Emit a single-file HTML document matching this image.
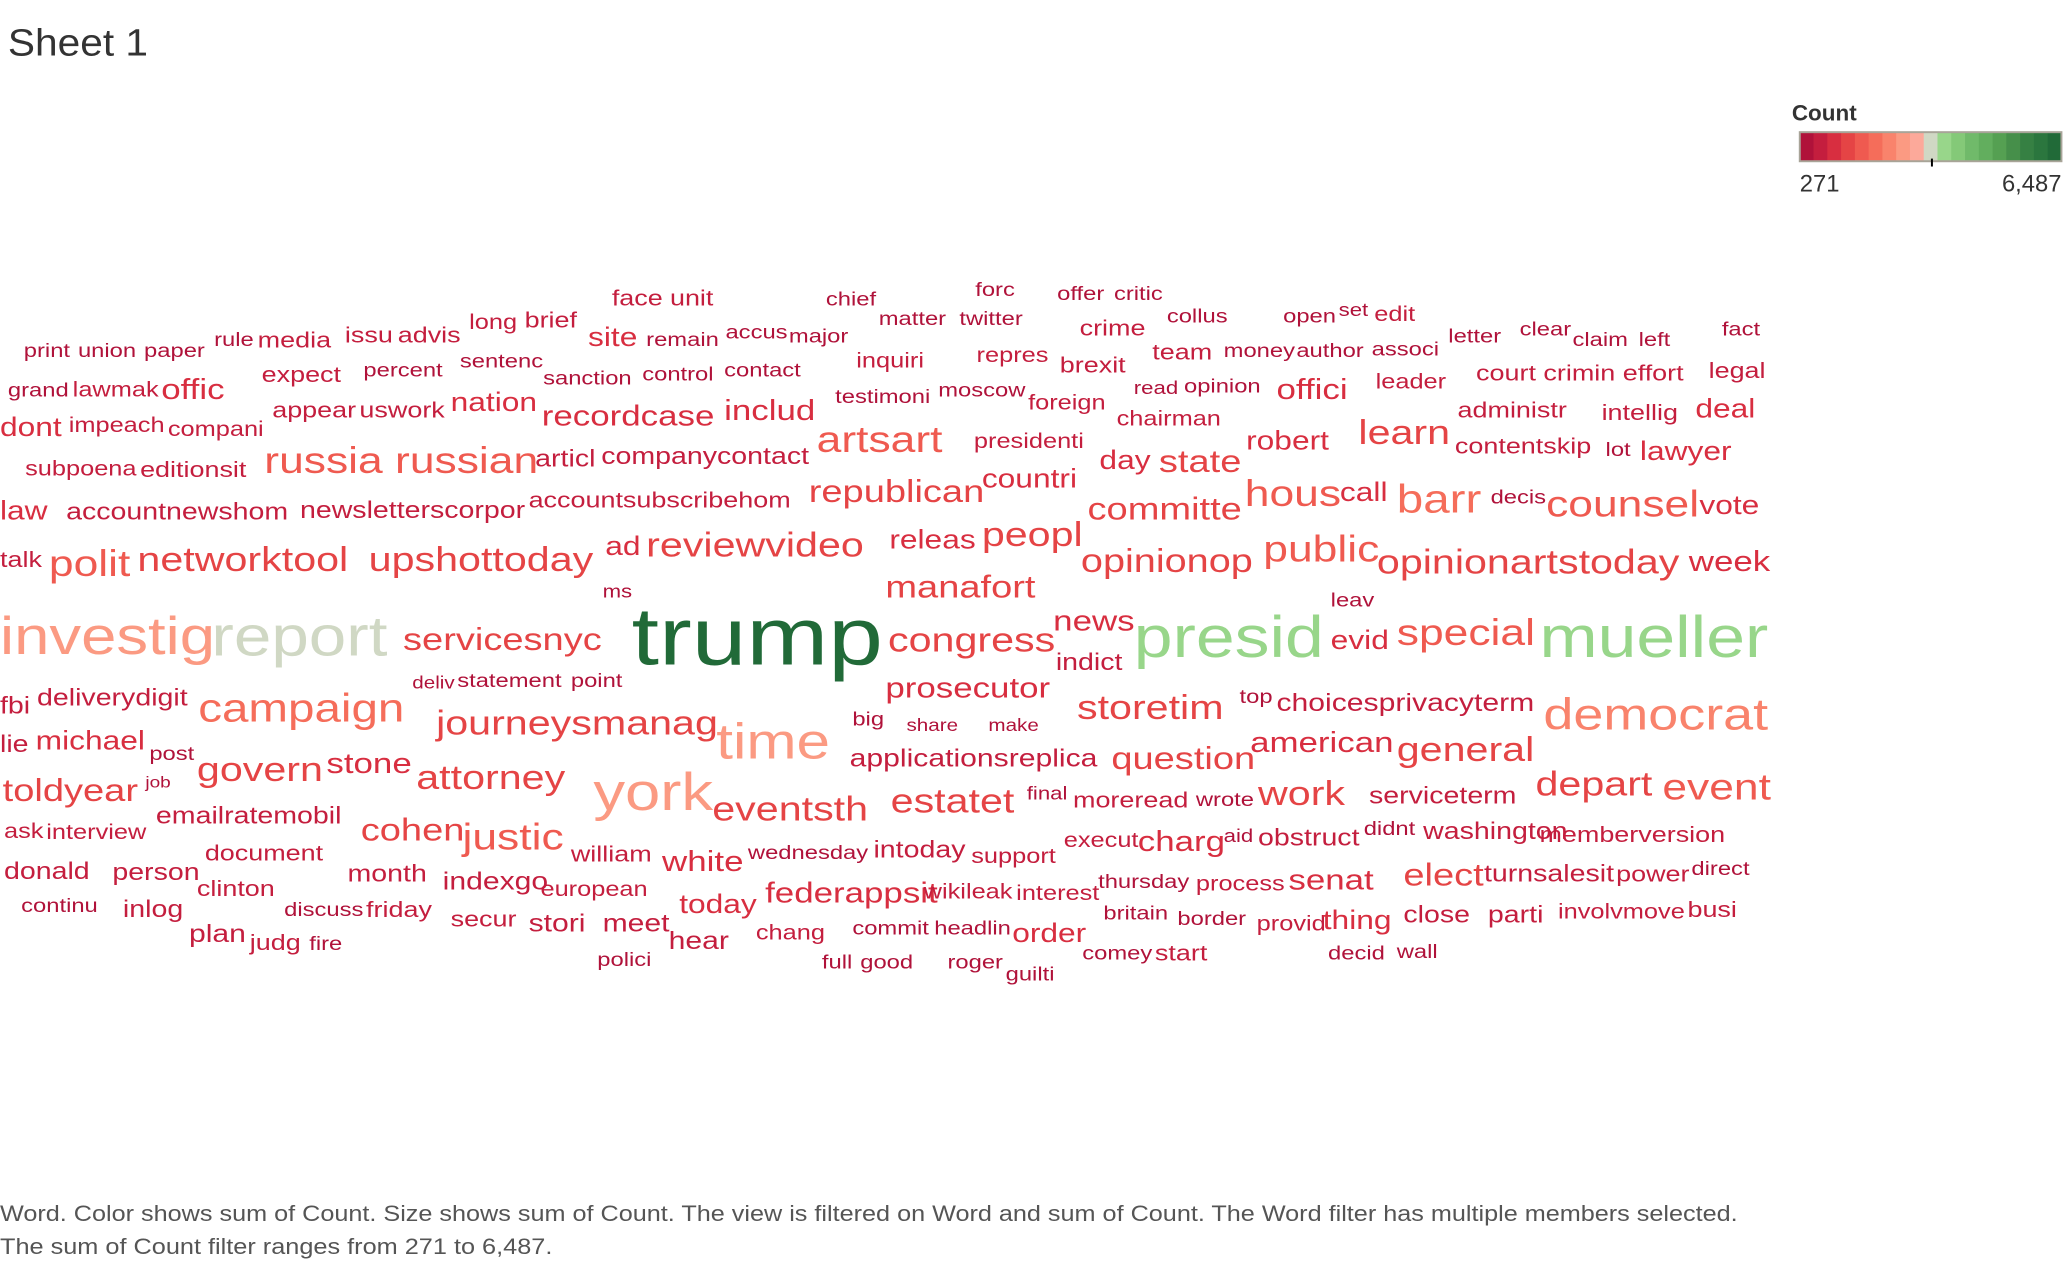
<!DOCTYPE html>
<html><head><meta charset="utf-8"><style>
html,body{margin:0;padding:0;background:#fff;}
svg{display:block;}
text{font-family:"Liberation Sans",sans-serif;}
</style></head><body>
<svg id="chart" width="2072" height="1264" viewBox="0 0 1568 956.5" xmlns="http://www.w3.org/2000/svg">
<text x="6" y="42" font-size="29" fill="#333" textLength="106" lengthAdjust="spacingAndGlyphs">Sheet 1</text>
<g>
<text x="1356" y="91" font-size="17" font-weight="bold" fill="#333">Count</text>
<g id="legendbar"></g>
<text x="1362" y="145" font-size="18" fill="#333">271</text>
<text x="1560" y="145" font-size="18" fill="#333" text-anchor="end">6,487</text>
</g>
<g id="words"></g>
<text x="0" y="924" font-size="17" fill="#555" textLength="1315" lengthAdjust="spacingAndGlyphs">Word.  Color shows sum of Count.  Size shows sum of Count. The view is filtered on Word and sum of Count. The Word filter has multiple members selected.</text>
<text x="0" y="949" font-size="17" fill="#555" textLength="418" lengthAdjust="spacingAndGlyphs">The sum of Count filter ranges from 271 to 6,487.</text>
</svg>
<script>
const palette = ["#b0123a","#c41e3e","#d82e40","#e54445","#ef5a50","#f56d5a","#f9836c","#fb9a82","#fca99a","#d0d8c4","#98d68a","#84c978","#70ba6a","#62ae5e","#55a052","#468f4a","#368043","#2b763e","#216a38"];
const minCount = 271, maxCount = 6487;
const words = ["face","unit","chief","forc","offer","critic","matter","twitter","open","set","edit","collus","long","brief","crime","letter","clear","fact","accus","major","issu","advis","site","remain","claim","left","rule","media","print","union","paper","team","money","author","associ","repres","inquiri","sentenc","brexit","contact","control","percent","court","crimin","effort","legal","expect","sanction","leader","read","opinion","grand","lawmak","offic","offici","moscow","testimoni","foreign","nation","appear","uswork","includ","administr","intellig","deal","recordcase","chairman","dont","impeach","compani","learn","artsart","presidenti","robert","contentskip","lot","lawyer","articl","companycontact","day","state","russia russian","subpoena","editionsit","countri","republican","call","decis","hous","barr","counsel","vote","accountsubscribehom","committe","law","accountnewshom","newsletterscorpor","peopl","releas","reviewvideo","ad","public","talk","polit","networktool","upshottoday","opinionop","opinionartstoday","week","manafort","ms","leav","news","presid","evid","special","mueller","investig","report","servicesnyc","trump","congress","indict","deliv","statement","point","prosecutor","deliverydigit","top","choicesprivacyterm","fbi","campaign","storetim","democrat","big","share","make","journeysmanag","time","michael","american","lie","general","post","applicationsreplica","question","stone","govern","attorney","job","final","depart","event","toldyear","york","work","moreread","wrote","estatet","serviceterm","eventsth","emailratemobil","didnt","ask","interview","cohen","washington","memberversion","justic","aid","obstruct","execut","charg","intoday","document","wednesday","support","william","white","direct","donald","person","month","power","elect","turnsalesit","senat","indexgo","thursday","process","clinton","european","federappsit","wikileak","interest","continu","today","discuss","friday","inlog","britain","border","close","parti","involvmove","busi","secur","stori","meet","provid","thing","commit","headlin","order","chang","plan","hear","judg","fire","wall","decid","comey","start","full","good","polici","roger","guilti"];
const counts = [893,893,644,644,644,644,644,644,644,520,768,644,768,893,893,644,644,644,644,644,893,893,1266,644,644,644,644,893,644,644,644,893,644,644,644,768,768,644,893,644,644,644,893,893,893,893,893,644,768,520,644,644,768,1514,1514,644,644,768,1266,893,893,1514,893,893,1266,1514,768,1266,768,768,2012,2260,768,1266,893,644,1266,1017,1017,1266,1763,2260,768,893,1266,1763,1266,644,2260,2509,2260,1266,893,1763,1266,1017,1017,2012,1266,2012,1266,2260,893,2260,2012,2012,1887,2012,1514,1763,520,644,1514,4249,1266,2260,4249,3752,4060,1763,6487,2012,1017,395,644,644,1514,1017,644,1141,1017,2509,2012,3006,644,395,395,2012,3503,1266,1514,1017,2012,644,1141,1763,1514,2012,2012,271,520,2012,2260,1763,3752,2012,893,644,2012,1017,2012,1017,644,768,768,1763,1017,893,2260,520,1017,768,1514,1017,893,644,768,893,1514,644,1017,1017,1017,893,1763,1017,1514,1141,644,768,893,768,1514,768,768,644,1266,644,893,1017,644,644,1017,1017,768,893,893,1141,1141,768,1266,644,644,1266,768,1141,1141,893,644,644,644,644,893,644,644,644,644,644];
const layoutX = [463,507,625,738,800,843,665,726,971,1013,1040,883,355,397,817,1096,1150,1303,549,597,261,301,445,489,1190,1240,162,195,18,59,109,872,926,981,1038,739,648,348,802,548,486,275,1117,1168,1228,1293,198,411,1041,858,896,6,55,122,966,710,632,778,341,206,272,548,1103,1212,1283,410,845,0,52,127,1028,618,737,943,1101,1215,1241,405,455,832,877,200,19,106,743,612,1014,1128,942,1057,1170,1286,400,823,0,50,227,743,673,489,458,956,0,37,104,279,818,1042,1278,670,456,1007,797,858,1007,1057,1165,0,160,305,478,672,799,312,346,432,670,28,938,966,0,150,815,1168,645,686,748,330,542,27,946,0,1057,113,643,841,247,149,315,110,777,1162,1258,2,449,952,812,905,674,1036,539,118,1032,3,35,273,1077,1165,350,926,952,805,861,661,155,566,735,432,501,1280,3,85,263,1223,1062,1123,975,335,831,905,149,409,579,699,769,16,514,215,277,93,835,891,1062,1126,1179,1277,341,400,456,951,1001,645,707,766,572,143,506,189,234,1057,1005,819,874,622,651,452,717,761];
const layoutY = [231,231,231,224,227,227,246,246,244,239,243,244,249,248,254,259,254,254,256,259,259,259,262,262,262,262,262,263,270,270,270,272,270,270,269,274,278,278,282,285,288,285,288,288,288,286,289,291,294,298,297,300,300,302,302,300,305,310,311,316,316,318,316,318,316,322,322,330,327,330,336,342,339,340,343,345,348,353,351,355,357,358,360,361,369,380,379,381,383,388,391,389,384,393,393,393,392,413,415,421,420,425,429,436,432,432,433,434,432,452,452,459,477,497,491,488,497,495,496,492,503,493,507,521,520,520,528,534,532,538,540,546,544,552,549,553,553,556,574,567,569,569,576,575,580,582,585,591,597,596,605,602,605,606,613,609,611,610,615,608,621,623,632,634,635,636,635,637,643,637,640,641,644,649,651,650,653,652,659,662,665,666,667,667,670,667,673,673,672,674,678,678,683,680,681,690,691,693,694,694,696,700,698,698,695,694,701,705,705,704,703,707,707,713,711,713,718,719,719,725,726,726,727,733,733,731,733,742];

function sizeScale(c){ return 12 + (c - minCount) / (maxCount - minCount) * 50; }
function colorScale(c){
  const t = (c - minCount) / (maxCount - minCount);
  let i;
  if (t < 0.6) i = Math.floor(t / 0.6 * 8.4);
  else if (t < 0.63) i = 9;
  else i = 10 + Math.floor((t - 0.63) / 0.37 * 9);
  return palette[Math.max(0, Math.min(18, i))];
}
const NS = "http://www.w3.org/2000/svg";
const lb = document.getElementById("legendbar");
const stepW = 198 / palette.length;
palette.forEach((col, i) => {
  const r = document.createElementNS(NS, "rect");
  r.setAttribute("x", 1362 + i * stepW); r.setAttribute("y", 100);
  r.setAttribute("width", stepW + 0.3); r.setAttribute("height", 22);
  r.setAttribute("fill", col);
  
  
  lb.appendChild(r);
});
const fr = document.createElementNS(NS, "rect");
fr.setAttribute("x", 1362); fr.setAttribute("y", 100); fr.setAttribute("width", 198); fr.setAttribute("height", 22);
fr.setAttribute("fill", "none"); fr.setAttribute("stroke", "#a8a498"); fr.setAttribute("stroke-width", "1.5");


lb.appendChild(fr);
const tk = document.createElementNS(NS, "line");
tk.setAttribute("x1", 1462); tk.setAttribute("x2", 1462); tk.setAttribute("y1", 120); tk.setAttribute("y2", 126);
tk.setAttribute("stroke", "#000"); tk.setAttribute("stroke-width", "1.5");


lb.appendChild(tk);

const stretch = 1.2;
const g = document.getElementById("words");
words.forEach((w, i) => {
  const t = document.createElementNS(NS, "text");
  t.setAttribute("x", 0); t.setAttribute("y", 0);
  t.setAttribute("transform", "translate(" + layoutX[i] + "," + layoutY[i] + ") scale(" + stretch + ",1)");
  t.setAttribute("font-size", sizeScale(counts[i]).toFixed(1));
  t.setAttribute("fill", colorScale(counts[i]));
  t.textContent = w;
  
  
  g.appendChild(t);
});
</script>
</body></html>
